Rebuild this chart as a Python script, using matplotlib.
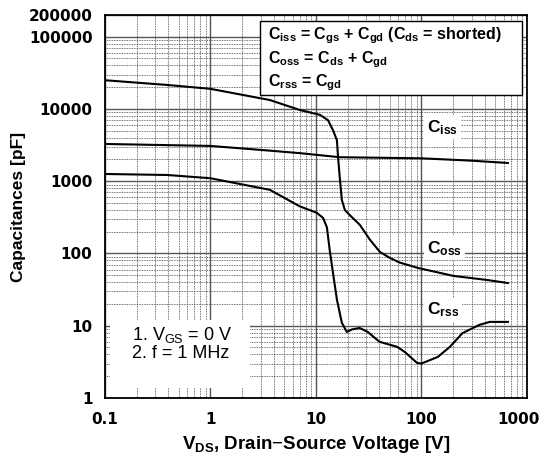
import numpy as np
import matplotlib.pyplot as plt
import matplotlib.transforms as mtransforms
from matplotlib.ticker import LogLocator, FixedLocator, NullFormatter
from matplotlib.patches import Rectangle

plt.rcParams['font.family'] = ['Liberation Sans', 'DejaVu Sans']
plt.rcParams['mathtext.fontset'] = 'custom'
plt.rcParams['mathtext.rm'] = 'Liberation Sans'
plt.rcParams['mathtext.bf'] = 'Liberation Sans:bold'
plt.rcParams['mathtext.it'] = 'Liberation Sans:italic'

# (V, pF)
coss_v = [0.1, 0.39, 1, 3.66, 7.0, 10.9, 13.0, 14.5, 15.8, 16.2, 16.8, 17.6, 18.8, 20.9, 26, 32.5, 40.4, 50, 62, 93, 200, 417, 660]
coss_c = [25000, 21500, 19000, 13300, 9700, 8300, 7000, 5100, 3700, 2160, 1150, 550, 400, 340, 250, 155, 105, 87, 75, 63, 49, 43, 39]

ciss_v = [0.1, 1, 3.66, 7.0, 16.8, 100, 290, 660]
ciss_c = [3280, 3080, 2650, 2450, 2150, 2075, 1930, 1790]

crss_v = [0.1, 0.39, 1, 3.66, 7.0, 10.2, 11.7, 12.7, 13.5, 14.5, 15.8, 17.6, 19.6, 22, 26, 31, 40, 59, 70, 91, 100, 143, 186, 245, 355, 445, 660]
crss_c = [1260, 1220, 1100, 760, 450, 365, 310, 230, 112, 54, 23, 11, 8.2, 8.9, 9.3, 8.2, 6.0, 5.1, 4.3, 3.05, 3.0, 3.7, 5.1, 7.9, 10.3, 11.3, 11.3]

y_ticks = [1, 10, 100, 1000, 10000, 100000, 200000]
x_ticks = [0.1, 1, 10, 100, 1000]

fig = plt.figure(figsize=(5.41, 4.61), dpi=100)
ax = fig.add_axes([0.194, 0.1367, 0.78, 0.8308])
ax.set_xscale('log')
ax.set_yscale('log')
ax.set_xlim(0.1, 1000)
ax.set_ylim(1, 200000)

ax.xaxis.set_major_locator(FixedLocator(x_ticks))
ax.yaxis.set_major_locator(FixedLocator(y_ticks))
tick_font = dict(family='DejaVu Sans', fontweight='bold', fontsize=11)
ax.set_xticklabels([str(t) if t < 1 else str(int(t)) for t in x_ticks], **tick_font)
ax.set_yticklabels([str(t) for t in y_ticks], **tick_font)
ax.xaxis.set_minor_locator(LogLocator(base=10, subs=np.arange(2, 10)))
ax.yaxis.set_minor_locator(LogLocator(base=10, subs=np.arange(2, 10)))
ax.xaxis.set_minor_formatter(NullFormatter())
ax.yaxis.set_minor_formatter(NullFormatter())
ax.tick_params(which='both', length=0)
ax.tick_params(axis='y', pad=9)
ax.tick_params(axis='x', pad=10)
# last x label sits a bit left in the original
last = ax.get_xticklabels()[-1]
last.set_transform(last.get_transform() + mtransforms.ScaledTranslation(-8 / 100, 0, fig.dpi_scale_trans))

ax.grid(which='major', color='#555555', lw=1.0, ls='-')
ax.grid(which='minor', color='#444444', lw=0.6, ls=(0, (1, 1)))
for s in ax.spines.values():
    s.set_linewidth(1.3)

ax.plot(coss_v, coss_c, color='black', lw=1.5, zorder=4)
ax.plot(ciss_v, ciss_c, color='black', lw=1.5, zorder=4)
ax.plot(crss_v, crss_c, color='black', lw=1.5, zorder=4)

lab_bbox = dict(facecolor='white', edgecolor='none', pad=2)
ax.text(113, 5600, r'C$_{\mathbf{iss}}$', fontsize=12.5, fontweight='bold', va='center', ha='left', bbox=lab_bbox, zorder=5)
ax.text(113, 118, r'C$_{\mathbf{oss}}$', fontsize=12.5, fontweight='bold', va='center', ha='left', bbox=lab_bbox, zorder=5)
ax.text(113, 16.5, r'C$_{\mathbf{rss}}$', fontsize=12.5, fontweight='bold', va='center', ha='left', bbox=lab_bbox, zorder=5)

# definitions box
ax.add_patch(Rectangle((0.367, 0.792), 0.621, 0.192, transform=ax.transAxes,
                       facecolor='white', edgecolor='black', lw=1.0, zorder=5))
defs = [r'C$_{\mathbf{iss}}$ = C$_{\mathbf{gs}}$ + C$_{\mathbf{gd}}$ (C$_{\mathbf{ds}}$ = shorted)',
        r'C$_{\mathbf{oss}}$ = C$_{\mathbf{ds}}$ + C$_{\mathbf{gd}}$',
        r'C$_{\mathbf{rss}}$ = C$_{\mathbf{gd}}$']
for i, s in enumerate(defs):
    ax.text(0.386, 0.946 - i * 0.0615, s, transform=ax.transAxes, fontsize=11.5,
            fontweight='bold', va='center', ha='left', zorder=6)

# test conditions box
ax.add_patch(Rectangle((0.012, 0.026), 0.332, 0.178, transform=ax.transAxes,
                       facecolor='white', edgecolor='none', zorder=3))
ax.text(0.064, 0.164, r'1. V$_{\mathrm{GS}}$ = 0 V', transform=ax.transAxes, fontsize=13,
        va='center', ha='left', zorder=6)
ax.text(0.064, 0.117, '2. f = 1 MHz', transform=ax.transAxes, fontsize=13,
        va='center', ha='left', zorder=6)

ax.set_xlabel(r'V$_{\mathbf{DS}}$, Drain$-$Source Voltage [V]', fontsize=13.5, fontweight='bold', labelpad=5)
ax.set_ylabel('Capacitances [pF]', fontsize=12.5, fontweight='bold', labelpad=2)

fig.savefig('out.png', dpi=100)
